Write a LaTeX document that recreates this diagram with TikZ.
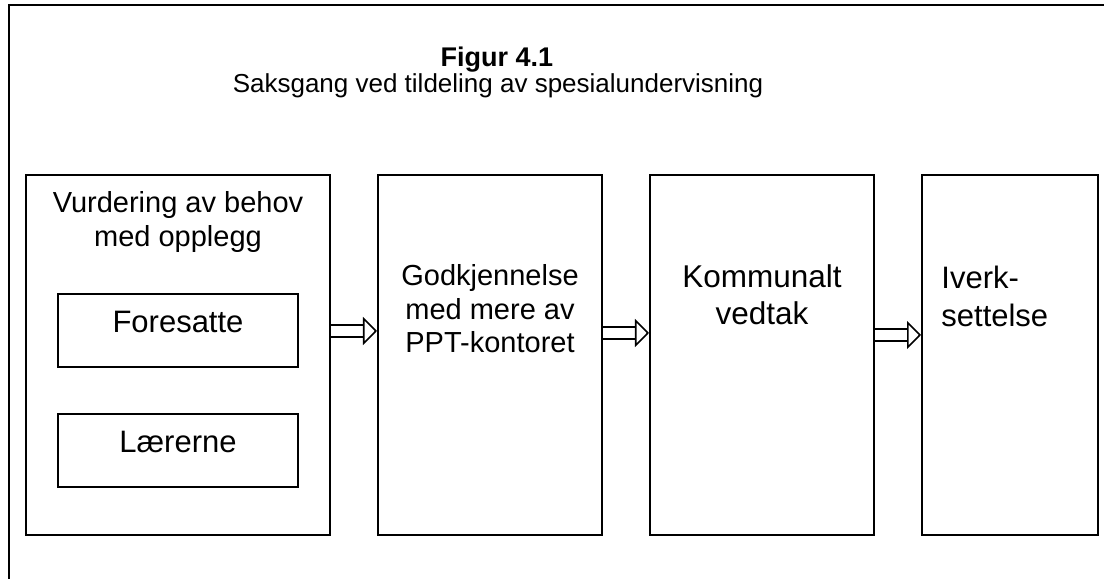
\documentclass[tikz,border=0pt]{standalone}
\usepackage{fontspec}
\setmainfont{Liberation Sans}
\usetikzlibrary{arrows.meta}

\begin{document}
\begin{tikzpicture}[x=0.5bp, y=-0.5bp,
        box/.style={draw, line width=1bp, inner sep=0pt, minimum height=180bp},
        smallbox/.style={draw, line width=1bp, inner sep=0pt, minimum width=120bp, minimum height=36.5bp,
            font=\fontsize{15.5bp}{18bp}\selectfont, text height=0.7em, text depth=0.5em},
        boxtext/.style={anchor=base, inner sep=0pt, align=center},
        hollow/.style={double, line width=0.8bp, double distance=5.2bp,
            -{Triangle[length=7bp, width=14bp, line width=0.8bp, fill=white]}}]
        \useasboundingbox (0,0) rectangle (1104,579);
        \draw[line width=1bp] (8.5,579) -- (8.5,5.5) -- (1104,5.5);

        % title
        \node[boxtext, font=\bfseries\fontsize{13.5bp}{16bp}\selectfont] (fig) at (497,66.5) {Figur 4.1};
        \node[boxtext, font=\fontsize{13bp}{16bp}\selectfont] (sub) at (498,93) {Saksgang ved tildeling av spesialundervisning};

        % boxes
        \node[box, minimum width=152bp] (vurd) at (178,355) {};
        \node[box, minimum width=112bp] (ppt) at (490,355) {};
        \node[box, minimum width=112bp] (komm) at (762,355) {};
        \node[box, minimum width=88bp] (iverk) at (1010,355) {};
        \node[smallbox] (fores) at (178,331) {Foresatte};
        \node[smallbox] (laer) at (178,450.5) {Lærerne};

        % text, placed at the baseline of the last line
        \node[boxtext, font=\fontsize{14.5bp}{17bp}\selectfont] (vurdtxt) at (178,247) {Vurdering av behov\\med opplegg};
        \node[boxtext, font=\fontsize{14.5bp}{16.75bp}\selectfont] (ppttxt) at (490,353) {Godkjennelse\\med mere av\\PPT-kontoret};
        \node[boxtext, font=\fontsize{15.75bp}{18.5bp}\selectfont] (kommtxt) at (762,325) {Kommunalt\\vedtak};
        \node[boxtext, anchor=base west, align=left, font=\fontsize{15.5bp}{19bp}\selectfont] (iverktxt) at (941,327) {Iverk-\\settelse};

        % arrows
        \draw[hollow] ([yshift=12bp]vurd.east) -- ([yshift=12bp]ppt.west);
        \draw[hollow] ([yshift=11bp]ppt.east) -- ([yshift=11bp]komm.west);
        \draw[hollow] ([yshift=10bp]komm.east) -- ([yshift=10bp]iverk.west);
    \end{tikzpicture}
\end{document}
